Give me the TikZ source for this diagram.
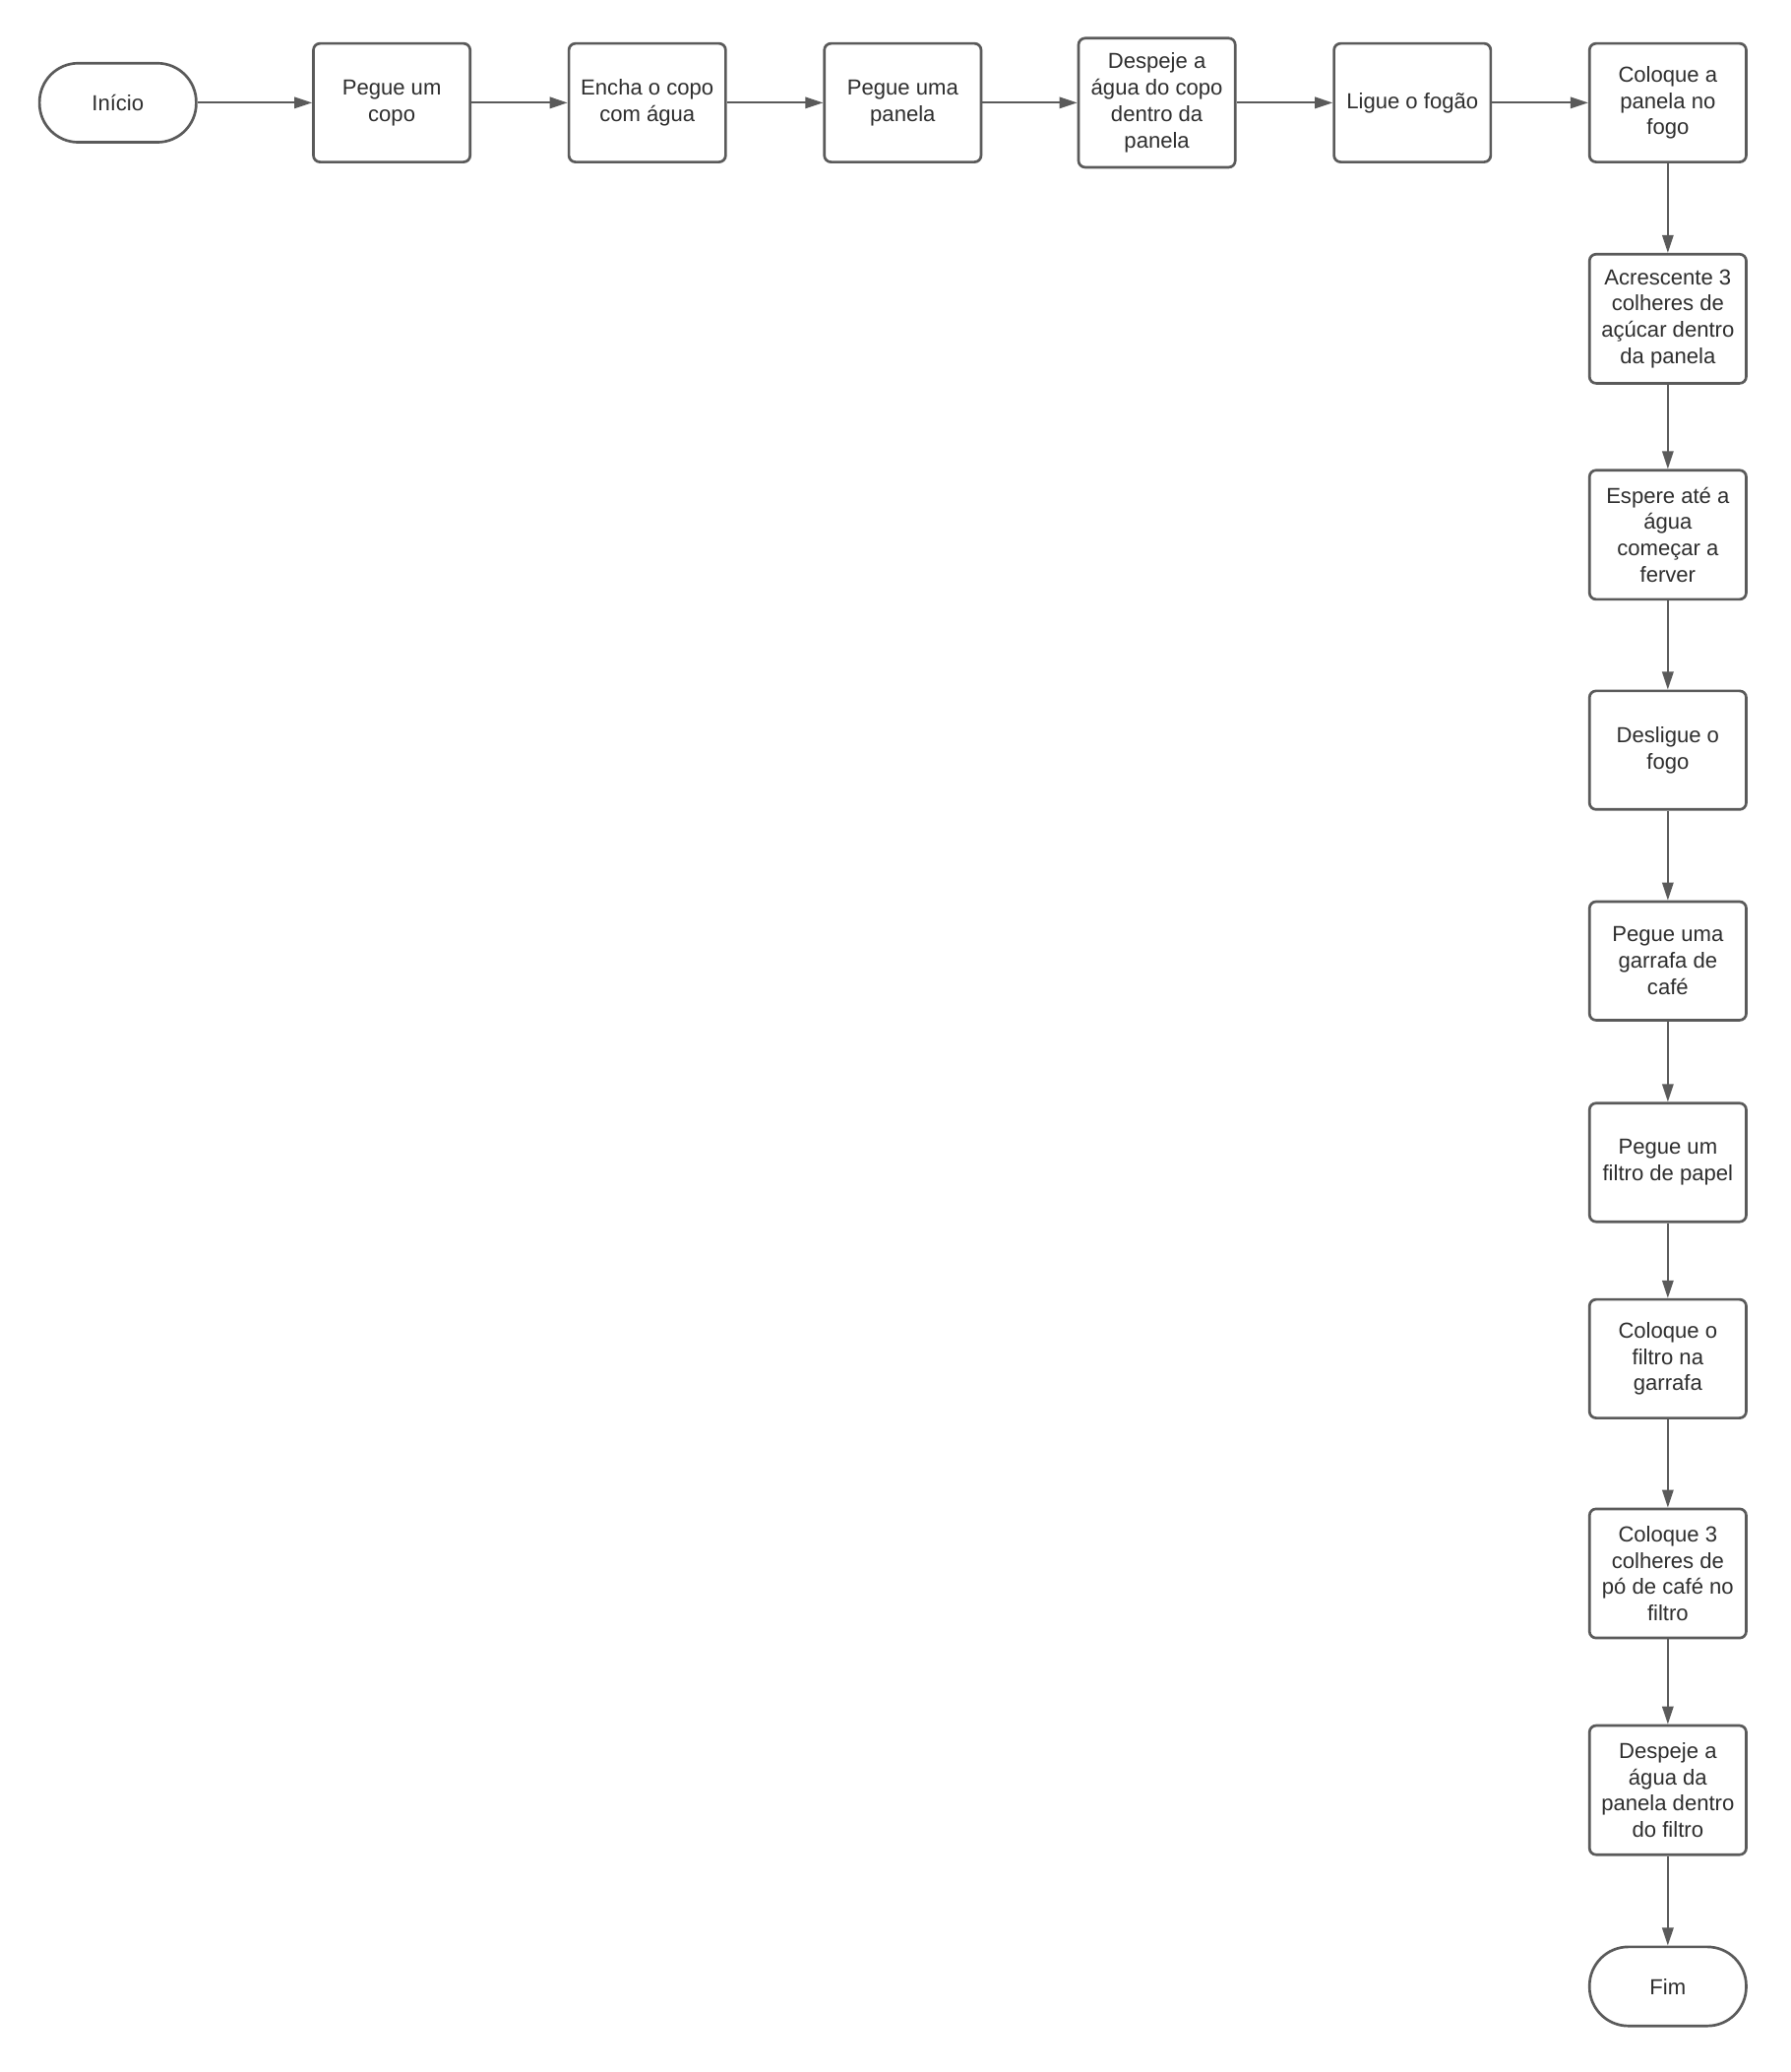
\documentclass[tikz,border=0pt]{standalone}
\usepackage{fontspec}
\setmainfont{Liberation Sans}
\usetikzlibrary{arrows.meta}
\definecolor{strokegray}{HTML}{5A5A5A}
\definecolor{textgray}{HTML}{2E2E2E}
\begin{document}
\begin{tikzpicture}[x=1pt,y=-1pt,
  base/.style={draw=strokegray, line width=2pt, fill=white, align=center,
    text=textgray, inner sep=0pt,
    font=\fontsize{16.5}{20}\selectfont},
  stepbox/.style={base, rounded corners=5pt, minimum width=119pt, minimum height=90pt},
  tallbox/.style={stepbox, minimum height=98pt},
  termbox/.style={base, rounded corners=29.5pt, minimum width=119pt, minimum height=60pt},
  conn/.style={draw=strokegray, line width=1.5pt, -{Triangle[length=13.5pt,width=8.5pt]}}
]
\useasboundingbox (0,0) rectangle (1360,1573);
\fill[white] (0,0) rectangle (1360,1573);

% top row
\node[termbox] (inicio) at (89.5,78) {Início};
\node[stepbox] (copo) at (297.5,78) {Pegue um\\copo};
\node[stepbox] (encha) at (491.5,78) {Encha o copo\\com água};
\node[stepbox] (panela) at (685.5,78) {Pegue uma\\panela};
\node[tallbox] (despeje1) at (878.5,78) {Despeje a\\água do copo\\dentro da\\panela};
\node[stepbox] (ligue) at (1072.5,78) {Ligue o fogão};
\node[stepbox] (coloque1) at (1266.5,78) {Coloque a\\panela no\\fogo};

% column
\node[tallbox] (acucar) at (1266.5,242) {Acrescente 3\\colheres de\\açúcar dentro\\da panela};
\node[tallbox] (espere) at (1266.5,406) {Espere até a\\água\\começar a\\ferver};
\node[stepbox] (desligue) at (1266.5,569.5) {Desligue o\\fogo};
\node[stepbox] (garrafa) at (1266.5,729.5) {Pegue uma\\garrafa de\\café};
\node[stepbox] (filtro) at (1266.5,882.5) {Pegue um\\filtro de papel};
\node[stepbox] (coloque2) at (1266.5,1031.5) {Coloque o\\filtro na\\garrafa};
\node[tallbox] (po) at (1266.5,1194.5) {Coloque 3\\colheres de\\pó de café no\\filtro};
\node[tallbox] (despeje2) at (1266.5,1359) {Despeje a\\água da\\panela dentro\\do filtro};
\node[termbox] (fim) at (1266.5,1508) {Fim};

% connectors
\draw[conn] (inicio) -- (copo);
\draw[conn] (copo) -- (encha);
\draw[conn] (encha) -- (panela);
\draw[conn] (panela) -- (despeje1);
\draw[conn] (despeje1) -- (ligue);
\draw[conn] (ligue) -- (coloque1);
\draw[conn] (coloque1) -- (acucar);
\draw[conn] (acucar) -- (espere);
\draw[conn] (espere) -- (desligue);
\draw[conn] (desligue) -- (garrafa);
\draw[conn] (garrafa) -- (filtro);
\draw[conn] (filtro) -- (coloque2);
\draw[conn] (coloque2) -- (po);
\draw[conn] (po) -- (despeje2);
\draw[conn] (despeje2) -- (fim);
\end{tikzpicture}
\end{document}
